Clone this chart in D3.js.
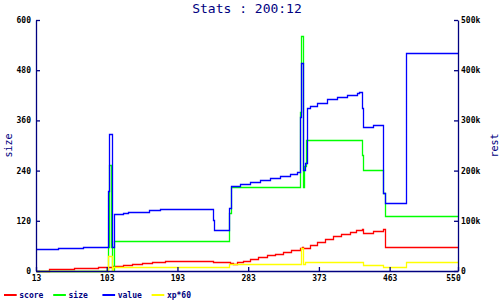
<!DOCTYPE html>
<html>
<head>
<meta charset="utf-8">
<script src="https://cdn.jsdelivr.net/npm/d3@7"></script>
<style>
  html, body { margin: 0; padding: 0; background: #fff; }
  svg { display: block; }
</style>
</head>
<body>
<svg id="chart" width="500" height="300"></svg>
<script>
// ---------- DATA ----------
const titleText = "Stats : 200:12";
const xTicks = [13, 103, 193, 283, 373, 463, 550];
const leftTicks = [0, 120, 240, 360, 480, 600];
const rightTicks = [0, 100000, 200000, 300000, 400000, 500000];
const seriesNames = ["score", "size", "value", "xp*60"];
const seriesColors = ["#ff0000", "#00ff00", "#0000ff", "#ffff00"];

const scoreX = [13, 29.5, 61.4, 91.9, 105, 111.4, 124.1, 134.8, 147.5, 160.2, 177.2, 238.6, 259.9, 264.1, 268.4, 276.8, 285.3, 295.5, 306.6, 317.1, 327.7, 337.5, 349, 351.1, 353.1, 361.7, 370.2, 380.8, 391.3, 401.1, 412.6, 420.2, 427.5, 429.5, 442.2, 454.9, 456.7, 550];
const scoreY = [0.7, 4.1, 6.5, 8.8, 10.3, 12.7, 15.1, 17.5, 19.8, 21.5, 23.9, 21.5, 18.4, 16.7, 20.8, 24.6, 28.7, 33.5, 37.5, 41.8, 46.1, 50.2, 54.3, 58.1, 55.7, 63.3, 70, 77.2, 83.7, 89.2, 93.9, 97.3, 100.4, 90.1, 95.6, 99.7, 56.7, 56.7];

const sizeX = [13, 105, 106.3, 108.8, 110.1, 112.6, 259, 260.8, 349, 350, 352.5, 354.5, 356.6, 427.5, 429.5, 454.9, 456.7, 550];
const sizeY = [1, 58, 253, 58, 2, 71.7, 138, 200, 380.8, 561.7, 200, 250, 313, 277.3, 241.4, 187.2, 131.5, 131.5];

const valueX = [13, 41, 72.8, 105, 106.5, 109.3, 110.1, 112.6, 124.1, 130.5, 157.2, 170.8, 238.6, 239.9, 259, 260.8, 272.6, 285.3, 298, 310.8, 323.5, 336.2, 345.1, 349, 350, 352.5, 355.3, 357.5, 361.7, 370.2, 383, 395.6, 408.4, 421.1, 424.1, 427.5, 429.5, 442.2, 454.9, 456.7, 483.8, 550];
const valueY = [43200, 45200, 47200, 159400, 272300, 159400, 48400, 112900, 114900, 117500, 120900, 122900, 101600, 81700, 124900, 169900, 173300, 176700, 181300, 184700, 189200, 193200, 197800, 307400, 413700, 201200, 215100, 324100, 328700, 335300, 342600, 347200, 350600, 355200, 357200, 324100, 286300, 290800, 154800, 134900, 433700, 433700];

const xpX = [13, 105, 109.3, 111.4, 259, 350, 352.5, 355.3, 429.5, 454.9, 483.8, 550];
const xpY = [0.7, 35, 2.4, 10.3, 16, 54.3, 16, 22.2, 14.3, 8.8, 22.2, 22.2];

// ---------- CHART ----------
const navy = "#000080";
const mono = "'DejaVu Sans Mono', 'Liberation Mono', monospace";
const svg = d3.select("#chart");
svg.append("rect").attr("width", 500).attr("height", 300).attr("fill", "#fff");

const x = d3.scaleLinear().domain([13, 550]).range([36, 458]);
const yL = d3.scaleLinear().domain([0, 600]).range([271, 20]);
const yR = d3.scaleLinear().domain([0, 500000]).range([271, 20]);

const snap = v => Math.round(v) + 0.5;

const series = [
  { xs: scoreX, ys: scoreY, y: yL },
  { xs: sizeX, ys: sizeY, y: yL },
  { xs: valueX, ys: valueY, y: yR },
  { xs: xpX, ys: xpY, y: yL }
];

series.forEach((s, i) => {
  const pts = s.xs.map((d, j) => [d, s.ys[j]]);
  const line = d3.line()
    .x(d => snap(x(d[0])))
    .y(d => snap(s.y(d[1])))
    .curve(d3.curveStepAfter);
  svg.append("path")
    .attr("d", line(pts))
    .attr("fill", "none")
    .attr("stroke", seriesColors[i])
    .attr("stroke-width", 1.3);
});

function styleAxis(g) {
  g.attr("font-family", null).attr("font-size", null);
  g.select(".domain").attr("stroke", navy).attr("stroke-width", 1.3);
  g.selectAll(".tick line").attr("stroke", navy).attr("stroke-width", 1.3);
  g.selectAll(".tick text")
    .attr("fill", "#000")
    .style("font-family", mono)
    .style("font-size", "8px")
    .style("font-weight", "bold");
}

svg.append("g").attr("transform", "translate(36,0)")
  .call(d3.axisLeft(yL).tickValues(leftTicks).tickSize(-4).tickSizeOuter(0).tickPadding(5))
  .call(styleAxis);

const xAxisG = svg.append("g").attr("transform", "translate(0,271)")
  .call(d3.axisBottom(x).tickValues(xTicks).tickSize(-4).tickSizeOuter(0).tickPadding(4))
  .call(styleAxis);
xAxisG.selectAll(".tick text").filter(d => d === xTicks[xTicks.length - 1]).attr("dx", -5);

svg.append("g").attr("transform", "translate(458,0)")
  .call(d3.axisRight(yR).tickValues(rightTicks)
    .tickFormat(d => d === 0 ? "0" : (d / 1000) + "k")
    .tickSize(-4).tickSizeOuter(0).tickPadding(3))
  .call(styleAxis);

// title
svg.append("text")
  .attr("x", 247).attr("y", 13)
  .attr("text-anchor", "middle")
  .attr("fill", navy)
  .style("font-family", mono)
  .style("font-size", "13px")
  .text(titleText);

// axis titles
svg.append("text")
  .attr("transform", "translate(11.5,145.5) rotate(-90)")
  .attr("text-anchor", "middle")
  .attr("fill", navy)
  .style("font-family", mono)
  .style("font-size", "10px")
  .text("size");

svg.append("text")
  .attr("transform", "translate(498,145.5) rotate(-90)")
  .attr("text-anchor", "middle")
  .attr("fill", navy)
  .style("font-family", mono)
  .style("font-size", "10px")
  .text("rest");

// legend
const leg = svg.append("g");
seriesNames.forEach((name, i) => {
  const x0 = 4 + i * 49.2;
  leg.append("line")
    .attr("x1", x0).attr("x2", x0 + 12.7)
    .attr("y1", 295).attr("y2", 295)
    .attr("stroke", seriesColors[i])
    .attr("stroke-width", 2);
  leg.append("text")
    .attr("x", x0 + 15.3).attr("y", 295)
    .attr("dy", "0.35em")
    .attr("fill", navy)
    .style("font-family", mono)
    .style("font-size", "8px")
    .style("font-weight", "bold")
    .text(name);
});
</script>
</body>
</html>
